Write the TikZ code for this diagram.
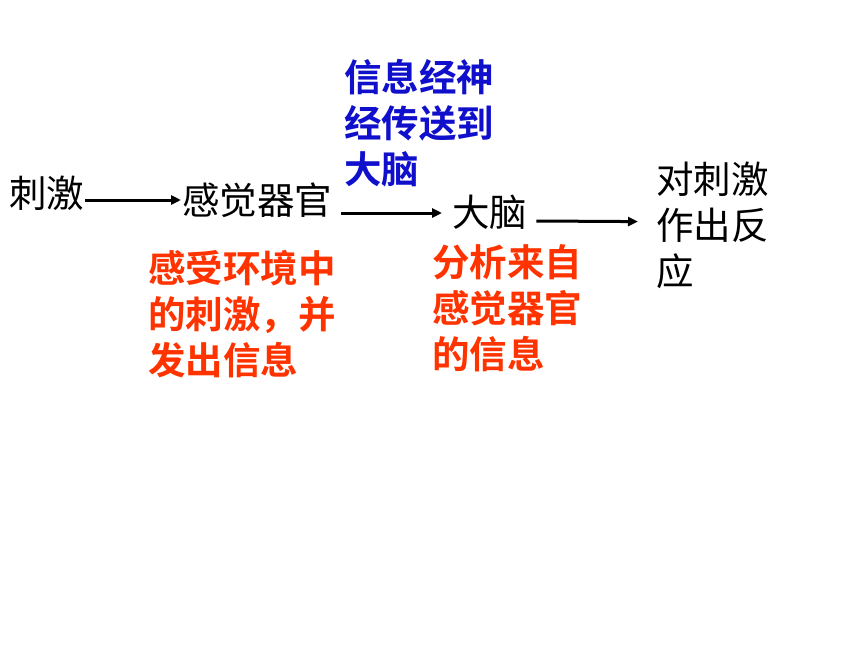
\documentclass[tikz,border=0pt]{standalone}
\usepackage{fontspec}
\newfontfamily\cjk{Noto Sans CJK SC}
\newfontfamily\cjkb{Noto Sans CJK SC Bold}
\usetikzlibrary{arrows.meta}
\definecolor{myred}{RGB}{255,51,0}
\definecolor{myblue}{RGB}{16,16,204}
\tikzset{
  txt/.style={inner sep=0pt, font=\cjk\fontsize{37.5}{46}\selectfont, text=black},
  note/.style={inner sep=0pt, align=left, font=\cjkb\fontsize{37.5}{46}\selectfont},
  arr/.style={line width=3pt, -{Triangle[length=10pt,width=9pt]}, black},
}
\begin{document}
\begin{tikzpicture}[x=1pt,y=-1pt]
\useasboundingbox (0,0) rectangle (860,645);
\node[txt, anchor=west] (stim) at (9,193) {刺激};
\node[txt, anchor=west] (organ) at (182,200) {感觉器官};
\node[txt, anchor=west] (brain) at (452,212) {大脑};
\node[txt, anchor=north west, align=left] (resp) at (656,162) {对刺激\\作出反\\应};
\node[note, text=myblue, anchor=north west] (nerve) at (344,59) {信息经神\\经传送到\\大脑};
\node[note, text=myred, anchor=north west] (sense) at (148,250) {感受环境中\\的刺激，并\\发出信息};
\node[note, text=myred, anchor=north west] (analyze) at (432,244) {分析来自\\感觉器官\\的信息};
\draw[arr] ([xshift=1pt,yshift=-7pt]stim.east) -- ([xshift=-1pt]organ.west);
\draw[arr] ([xshift=9pt,yshift=-13pt]organ.east) -- ([xshift=-10pt,yshift=-1pt]brain.west);
\draw[arr] ([xshift=9pt,yshift=-9pt]brain.east) -- ([xshift=-18pt,yshift=4pt]resp.west);
\end{tikzpicture}
\end{document}
